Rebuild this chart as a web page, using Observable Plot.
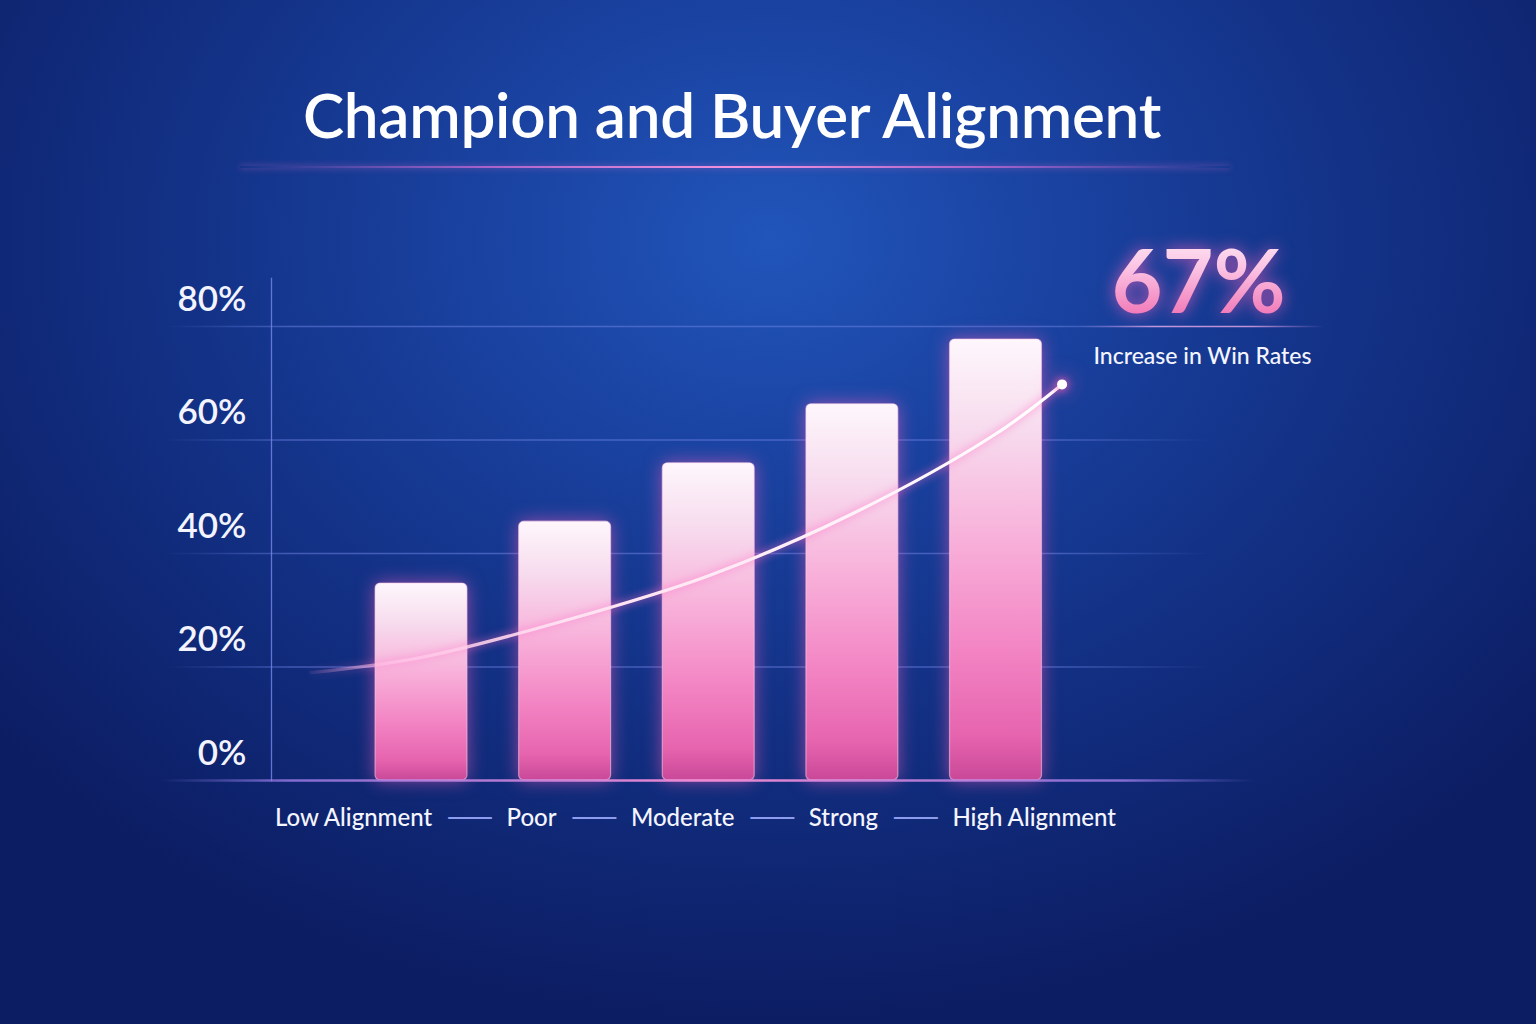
<!DOCTYPE html>
<html><head><meta charset="utf-8">
<script src="https://cdn.jsdelivr.net/npm/d3@7"></script>
<script src="https://cdn.jsdelivr.net/npm/@observablehq/plot@0.6"></script>
<style>
html,body{margin:0;padding:0;width:1536px;height:1024px;overflow:hidden;}
body{background: radial-gradient(ellipse 1000px 780px at 770px 240px, #2155ba 0%, #1a43a2 28%, #133287 58%, #0c1d63 100%); font-family: Lato, "Open Sans", sans-serif; position:relative;}
#title{height:200px; position:relative;}
#title h1{margin:0; position:absolute; top:83px; left:0; width:1464px; text-align:center; font-size:62px; line-height:62px; font-weight:600; color:#fff; letter-spacing:-0.3px;}
#title .rule{position:absolute; top:166px; left:240px; width:990px; height:2px; background:linear-gradient(90deg, rgba(200,100,210,0), rgba(215,110,215,0.75) 25%, rgba(255,150,225,0.95) 50%, rgba(215,110,215,0.75) 75%, rgba(200,100,210,0)); box-shadow:0 0 6px rgba(255,120,210,0.5);}
#chart svg{display:block; overflow:visible;}
</style></head>
<body>
<div id="title"><h1>Champion and Buyer Alignment</h1><div class="rule"></div></div>
<div id="chart"></div>
<script>
const categories = ["Low Alignment", "Poor", "Moderate", "Strong", "High Alignment"];
const winRates = [34.7, 45.6, 55.9, 66.3, 77.7];
const trendX = [-0.77, 0, 1, 2, 3, 4, 4.46];
const trendY = [19, 21.7, 28.2, 36.1, 47, 61.1, 69.8];
const yTicks = [0, 20, 40, 60, 80];
const headline = "67%";
const headlineLabel = "Increase in Win Rates";

const bars = categories.map((c, i) => ({i, category: c, value: winRates[i]}));
const trend = trendX.map((x, k) => ({x, y: trendY[k]}));
const trendEnd = trend[trend.length - 1];
const sep = "|";

const svg = Plot.plot({
  width: 1536, height: 824,
  marginTop: 126, marginBottom: 244, marginLeft: 271, marginRight: 326,
  style: {background: "transparent", color: "#ffffff", fontFamily: "Lato, 'Open Sans', sans-serif", overflow: "visible"},
  x: {domain: [0, 4], range: [421, 995.5], axis: null},
  y: {domain: [0, 80], axis: null},
  marks: [
    Plot.ruleY(yTicks.filter(d => d > 0), {stroke: "url(#gridGrad)", strokeWidth: 1.3, insetLeft: -106}),
    Plot.frame({anchor: "left", stroke: "#7183e6", strokeOpacity: 0.85, strokeWidth: 1.3, insetTop: -48}),
    Plot.axisY({ticks: yTicks, tickFormat: d => d + "%", tickSize: 0, tickPadding: 25, dy: -27, fontSize: 35, fontWeight: 600, fill: "#f3f4ff", label: null}),
    Plot.rectY(bars, {x1: d => d.i - 0.32, x2: d => d.i + 0.32, y: "value", fill: "url(#barGrad)", rx: 5, stroke: "#ffd0ea", strokeOpacity: 0.55, strokeWidth: 1.2}),
    Plot.ruleY([0], {stroke: "url(#baseGrad)", strokeWidth: 2.5, insetLeft: -111, insetRight: -45}),
    Plot.line(trend, {x: "x", y: "y", curve: "catmull-rom", stroke: "url(#curveGrad)", strokeWidth: 3.2}),
    Plot.dot([trendEnd], {x: "x", y: "y", r: 5, fill: "#ffffff"}),
    Plot.text([headline], {frameAnchor: "top-right", dx: -12, dy: -76, fontSize: 88, fontWeight: 700, fill: "url(#numGrad)", textAnchor: "middle"}),
    Plot.ruleY([80], {insetLeft: 809, insetRight: -115, stroke: "url(#calloutGrad)", strokeWidth: 1.6}),
    Plot.text([headlineLabel], {frameAnchor: "top-right", dx: -8, dy: 21, fontSize: 23, fontWeight: 500, fill: "#f4f5ff", textAnchor: "middle"}),
    Plot.text([categories.join(sep)], {frameAnchor: "bottom", dx: -45.5, dy: 45, fontSize: 24, fontWeight: 500, fill: "#f4f5ff", textAnchor: "middle"})
  ]
});

const s = d3.select(svg);
const defs = s.insert("defs", ":first-child");
function lin(id, attrs, stops) {
  const g = defs.append("linearGradient").attr("id", id);
  Object.entries(attrs).forEach(([k, v]) => g.attr(k, v));
  stops.forEach(([o, c, a]) => g.append("stop").attr("offset", o).attr("stop-color", c).attr("stop-opacity", a == null ? 1 : a));
}
lin("barGrad", {x1: 0, y1: 0, x2: 0, y2: 1}, [[0, "#fef7fc"], [0.2, "#f7dcee"], [0.45, "#f8b1da"], [0.7, "#f385c4"], [0.9, "#e664ae"], [1, "#c94898"]]);
lin("gridGrad", {gradientUnits: "userSpaceOnUse", x1: 165, y1: 0, x2: 1210, y2: 0}, [[0, "#6a7fe0", 0], [0.12, "#6a7fe0", 0.55], [0.85, "#6a7fe0", 0.55], [1, "#6a7fe0", 0]]);
lin("baseGrad", {gradientUnits: "userSpaceOnUse", x1: 160, y1: 0, x2: 1255, y2: 0}, [[0, "#8a7ae8", 0], [0.12, "#a07ee8", 0.8], [0.5, "#f08ad2", 1], [0.88, "#a07ee8", 0.8], [1, "#8a7ae8", 0]]);
lin("curveGrad", {gradientUnits: "userSpaceOnUse", x1: 300, y1: 0, x2: 1060, y2: 0}, [[0, "#ff9fd6", 0], [0.12, "#ffc4e6", 0.75], [0.35, "#ffe1f1", 1], [1, "#ffffff", 1]]);
lin("numGrad", {x1: 0, y1: 0, x2: 0, y2: 1}, [[0, "#fff3fa"], [0.4, "#fbc3e3"], [1, "#ee5ea8"]]);
lin("calloutGrad", {gradientUnits: "userSpaceOnUse", x1: 1080, y1: 0, x2: 1325, y2: 0}, [[0, "#d49ae8", 0], [0.3, "#e8a8e8", 0.8], [0.7, "#e8a8e8", 0.8], [1, "#d49ae8", 0]]);

s.selectAll('g[aria-label="rect"]').style("filter", "drop-shadow(0 0 9px rgba(255,95,190,0.55))");
s.selectAll('g[aria-label="line"]').style("filter", "drop-shadow(0 0 4px rgba(255,110,200,0.9))");
s.selectAll('g[aria-label="dot"]').style("filter", "drop-shadow(0 0 5px #ff5cb8) drop-shadow(0 0 10px rgba(255,92,184,0.8))");
s.selectAll("text").each(function() {
  const t = d3.select(this);
  const txt = t.text();
  if (txt === headline) t.style("filter", "drop-shadow(0 0 8px rgba(255,100,190,0.7))");
  if (txt === categories.join(sep)) {
    t.text(null);
    categories.forEach((c, i) => {
      if (i > 0) t.append("tspan").attr("dx", 16).attr("fill", "#8e9cf0").style("font-family", "'DejaVu Sans'").style("font-weight", 400).text("───");
      t.append("tspan").attr("dx", i > 0 ? 15 : 0).text(c);
    });
  }
});
document.getElementById("chart").appendChild(svg);
</script>
</body></html>
